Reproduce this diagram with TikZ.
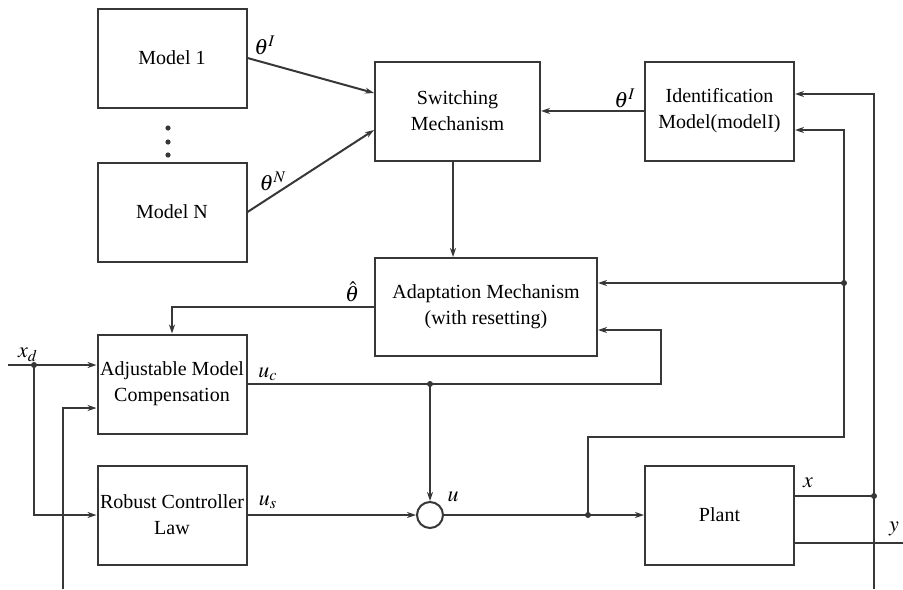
\documentclass[tikz,border=0pt]{standalone}
\usepackage{mathptmx}
\usepackage{fontspec}
\setmainfont{Liberation Serif}
\usepackage{tikz}
\usetikzlibrary{arrows.meta}
\definecolor{linegray}{RGB}{55,55,55}

\begin{document}
\begin{tikzpicture}[x=0.5pt,y=-0.5pt,
  block/.style={draw=linegray, line width=1pt, rectangle, inner sep=1pt,
    minimum width=74.5pt, minimum height=49.5pt, align=center,
    font=\fontsize{10}{13}\selectfont},
  sig/.style={->, >={Stealth[length=4.5pt,width=3pt]}, line width=1pt, linegray},
  lbl/.style={font=\fontsize{11}{13}\selectfont}]
\useasboundingbox (0,0) rectangle (903,589);

% blocks
\node[block] (mod1) at (172,58) {Model 1};
\node[block] (modN) at (172,212) {Model N};
\node[block, minimum width=82.5pt] (switch) at (457.5,111) {Switching\\Mechanism};
\node[block] (ident) at (719.5,111) {Identification\\Model(modelI)};
\node[block, minimum width=111pt, minimum height=49pt] (adapt) at (486,307) {Adaptation Mechanism\\(with resetting)};
\node[block] (adjust) at (172,384) {Adjustable Model\\Compensation};
\node[block] (robust) at (172,515) {Robust Controller\\Law};
\node[block] (plant) at (719.5,515) {Plant};
\node[draw=linegray, line width=1pt, circle, inner sep=0pt, minimum size=13pt] (sum) at (430,515) {};

% dots between the models
\foreach \yy in {128,142,155} \fill[linegray] (168,\yy) circle (1.3pt);

% free ends and branch points
\coordinate (xdin) at (8,365);
\coordinate (fbin) at (63,589);
\coordinate (xbus) at (874,589);
\coordinate (yout) at (903,543);
\coordinate (jxd) at (34,365);
\coordinate (juc) at (430,384);
\coordinate (ucturn) at (661,384);
\coordinate (ju) at (588,515);
\coordinate (fbturn) at (844,437);
\coordinate (jad) at (844,283);
\coordinate (jx) at (874,496);

% connectors
\draw[sig] (mod1.east) -- ([yshift=9pt]switch.west);
\draw[sig] (modN.east) -- ([yshift=-9.5pt]switch.west);
\draw[sig] (ident.west) -- (switch.east);
\draw[sig] ([xshift=-2.25pt]switch.south) -- ([xshift=-2.25pt]switch.south |- adapt.north);
\draw[sig] (adapt.west) -| (adjust.north);
\draw[sig] (xdin) -- ([yshift=9.5pt]adjust.west);
\draw[sig] (jxd) |- (robust.west);
\draw[sig] (fbin) |- ([yshift=-12pt]adjust.west);
\draw[sig] (adjust.east) -- (ucturn) |- ([yshift=-11.5pt]adapt.east);
\draw[sig] (juc) -- (sum.north);
\draw[sig] (robust.east) -- (sum.west);
\draw[sig] (sum.east) -- (plant.west);
\draw[sig] (ju) |- (fbturn) |- ([yshift=-9.5pt]ident.east);
\draw[sig] (jad) -- ([yshift=12pt]adapt.east);
\draw[line width=1pt, linegray] ([yshift=9.5pt]plant.east) -- (jx);
\draw[sig] (xbus) |- ([yshift=8.5pt]ident.east);
\draw[line width=1pt, linegray] ([yshift=-14pt]plant.east) -- (yout);

\foreach \jj in {jxd,juc,ju,jad,jx} \fill[linegray] (\jj) circle (1.5pt);

% signal labels
\node[lbl] (th1) at (265,45) {$\theta^I$};
\node[lbl] (thN) at (273,181) {$\theta^N$};
\node[lbl] (thI) at (625,98) {$\theta^I$};
\node[lbl] (thhat) at (352,292) {$\hat{\theta}$};
\node[lbl] (xd) at (28,355) {$x_d$};
\node[lbl] (uc) at (268,374) {$u_c$};
\node[lbl] (us) at (268,502) {$u_s$};
\node[lbl] (u) at (453,497) {$u$};
\node[lbl] (x) at (808,483) {$x$};
\node[lbl] (y) at (894,529) {$y$};
\end{tikzpicture}
\end{document}
